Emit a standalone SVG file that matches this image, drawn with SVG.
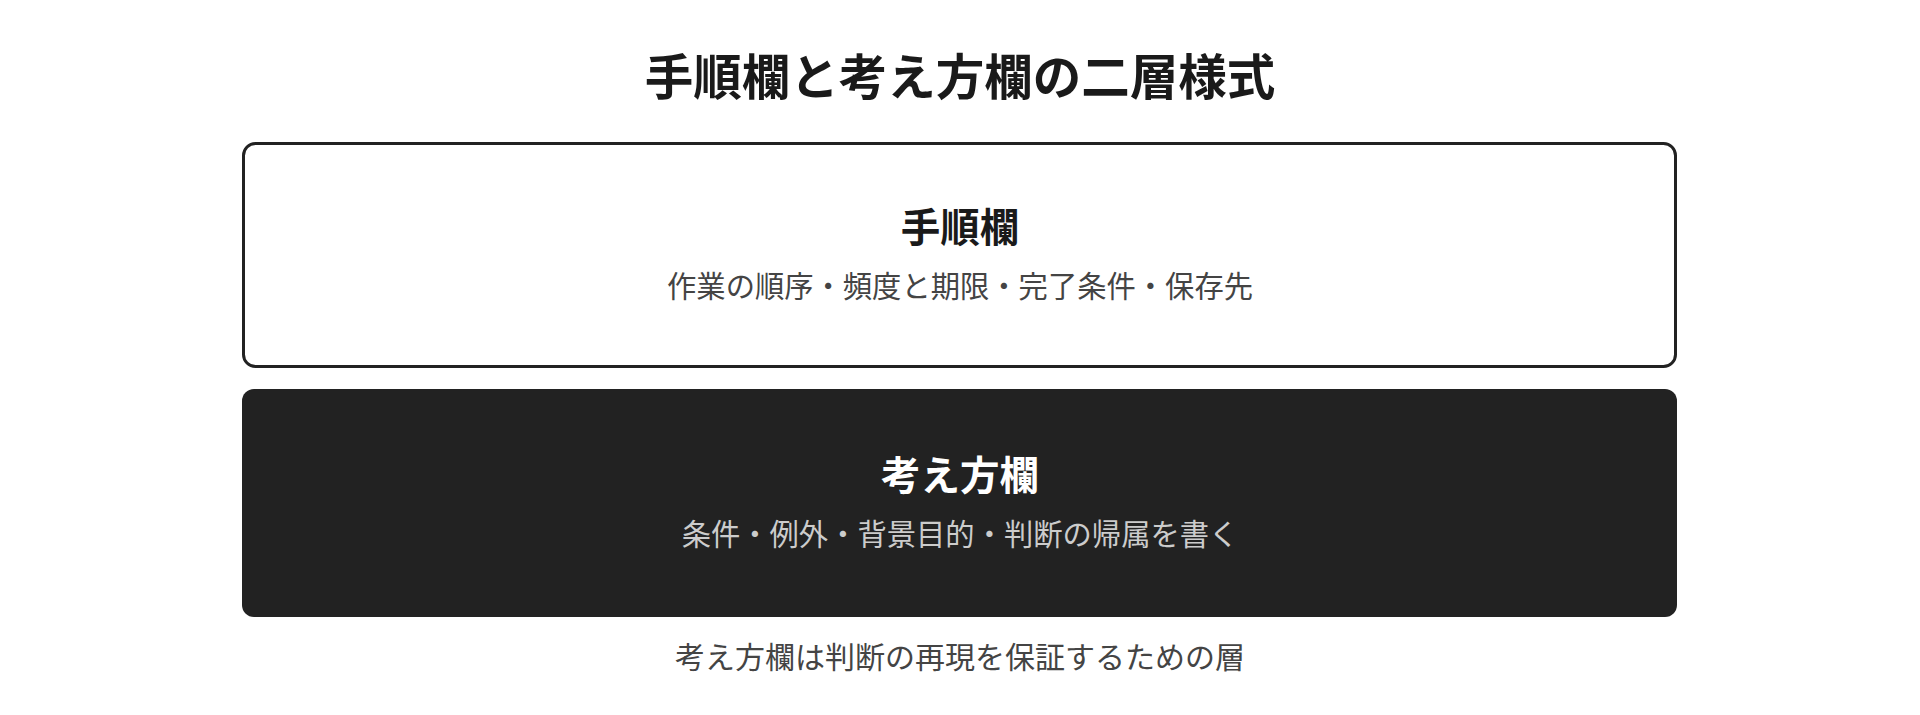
<svg xmlns="http://www.w3.org/2000/svg" width="1920" height="715" viewBox="0 0 1920 715">
<style>
text{font-family:"Noto Sans CJK JP","Noto Sans",sans-serif;text-anchor:middle;dominant-baseline:central}
.title{font-size:48.5px;font-weight:700;fill:#1a1a1a}
.h{font-size:39.5px;font-weight:700}
.s{font-size:29.3px;font-weight:400}
.f{font-size:30px;font-weight:400;fill:#444444}
</style>
<rect width="1920" height="715" fill="#ffffff"/>
<text class="title" x="960" y="74">手順欄と考え方欄の二層様式</text>
<g id="procedure">
<rect x="243.5" y="143.5" width="1432" height="223" rx="12" fill="#ffffff" stroke="#222222" stroke-width="3"/>
<text class="h" x="960" y="224" fill="#1a1a1a">手順欄</text>
<text class="s" x="960" y="284" fill="#444444">作業の順序・頻度と期限・完了条件・保存先</text>
</g>
<g id="thinking">
<rect x="242" y="389" width="1435" height="228" rx="12" fill="#222222"/>
<text class="h" x="960" y="472" fill="#ffffff">考え方欄</text>
<text class="s" x="960" y="532" fill="#cccccc">条件・例外・背景目的・判断の帰属を書く</text>
</g>
<g id="connectors"></g>
<text class="f" x="960" y="655">考え方欄は判断の再現を保証するための層</text>
</svg>
